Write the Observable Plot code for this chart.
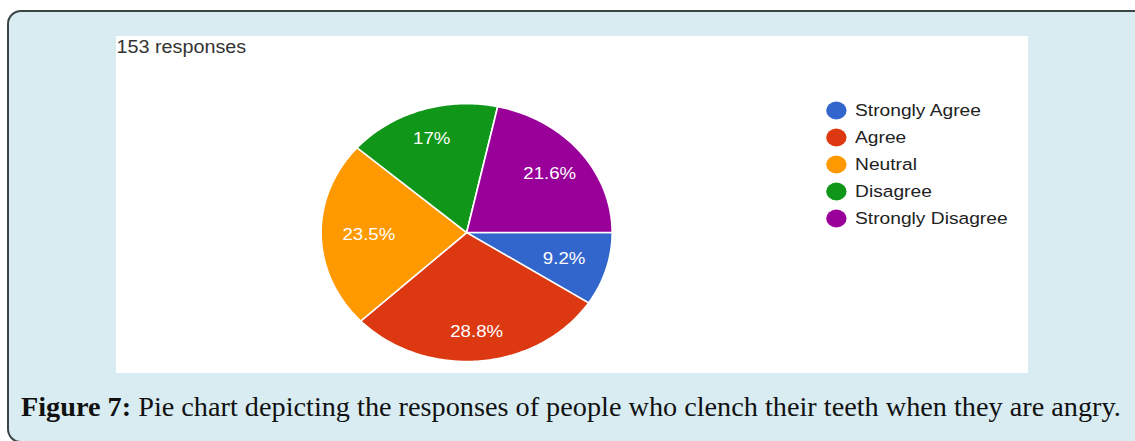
<!DOCTYPE html>
<html><head><meta charset="utf-8">
<script src="https://cdn.jsdelivr.net/npm/d3@7"></script>
<script src="https://cdn.jsdelivr.net/npm/@observablehq/plot@0.6"></script>
<style>
html,body{margin:0;padding:0;background:#fff;width:1135px;height:441px;overflow:hidden;position:relative;}
#box{position:absolute;left:7px;top:10px;width:1200px;height:433px;border:2px solid #3b4545;border-radius:14px;background:#d8ecf1;box-sizing:border-box;}
#panel{position:absolute;left:116px;top:36px;width:912px;height:337px;background:#fff;overflow:hidden;}
#stretch{position:absolute;left:0;top:0;width:807px;height:337px;transform:scaleX(1.13);transform-origin:0 0;}
#stretch svg{position:absolute;top:0;}
#caption{position:absolute;left:21px;white-space:nowrap;font-family:"Liberation Serif",serif;color:#111;line-height:1;}
</style>
</head><body>
<div id="box"></div>
<div id="panel"><div id="stretch"></div></div>
<div id="caption"></div>
<script>
const categories = ["Strongly Agree", "Agree", "Neutral", "Disagree", "Strongly Disagree"];
const percents = [9.2, 28.8, 23.5, 17, 21.6];
const colors = ["#3366cc", "#dc3912", "#ff9900", "#109618", "#990099"];
const responsesLabel = "153 responses";
const captionBold = "Figure 7:";
const captionText = " Pie chart depicting the responses of people who clench their teeth when they are angry.";

const slices = d3.pie().sort(null).startAngle(Math.PI / 2).endAngle(Math.PI / 2 + 2 * Math.PI)(percents);
const polys = [];
slices.forEach((s, i) => {
  const cat = categories[i];
  polys.push({cat, x: 0, y: 0});
  const n = Math.max(2, Math.ceil((s.endAngle - s.startAngle) / (Math.PI / 180)));
  for (let k = 0; k <= n; k++) {
    const a = s.startAngle + (s.endAngle - s.startAngle) * k / n;
    polys.push({cat, x: Math.sin(a), y: Math.cos(a)});
  }
  polys.push({cat, x: 0, y: 0});
});
const labels = slices.map((s, i) => {
  const m = (s.startAngle + s.endAngle) / 2;
  const L = 0.67 + 0.1 * Math.abs(Math.cos(m));
  return {cat: categories[i], x: L * Math.sin(m), y: L * Math.cos(m), text: percents[i] + "%"};
});

const sans = "'Liberation Sans', Arial, sans-serif";

const pie = Plot.plot({
  width: 807, height: 337, margin: 0,
  x: {domain: [-1, 1], range: [181, 438.6], axis: null},
  y: {domain: [-1, 1], range: [325, 67.2], axis: null},
  color: {domain: categories, range: colors},
  style: {background: "transparent", overflow: "visible", fontFamily: sans},
  marks: [
    Plot.line(polys, {x: "x", y: "y", z: "cat", fill: "cat", stroke: "white", strokeWidth: 1.5, strokeLinejoin: "round"}),
    Plot.text(labels, {x: "x", y: "y", text: "text", fill: "white", fontSize: 16.5, fontFamily: sans}),
    Plot.text([responsesLabel], {frameAnchor: "top-left", text: d => d, dy: 16, lineAnchor: "bottom", textAnchor: "start", fontSize: 17.5, fill: "#333", fontFamily: sans})
  ]
});

const legend = Plot.plot({
  width: 180, height: 337, margin: 0,
  y: {type: "point", domain: categories, range: [73.3, 183.3], padding: 0, axis: null},
  color: {domain: categories, range: colors},
  style: {background: "transparent", overflow: "visible", fontFamily: sans},
  marks: [
    Plot.dot(categories, {y: d => d, fill: d => d, r: 9, frameAnchor: "left", dx: 10}),
    Plot.text(categories, {y: d => d, text: d => d, frameAnchor: "left", dx: 26.5, textAnchor: "start", fontSize: 17, fill: "#222", fontFamily: sans})
  ]
});

const stretch = document.getElementById("stretch");
pie.style.left = "0px";
legend.style.left = "627px";
stretch.appendChild(pie);
stretch.appendChild(legend);

const cap = document.getElementById("caption");
const b = document.createElement("b");
b.textContent = captionBold;
cap.appendChild(b);
cap.appendChild(document.createTextNode(captionText));
cap.style.fontSize = "20px";
const w = cap.getBoundingClientRect().width;
const fs = 20 * 1100 / w;
cap.style.fontSize = fs + "px";
cap.style.top = (416.7 - 0.8375 * fs) + "px";
</script>
</body></html>
